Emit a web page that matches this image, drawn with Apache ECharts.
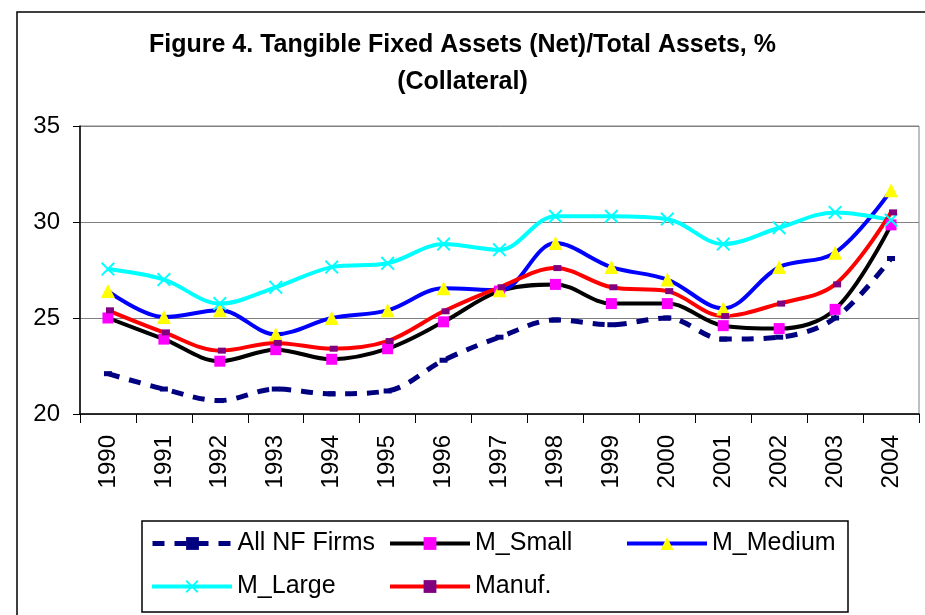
<!DOCTYPE html>
<html>
<head>
<meta charset="utf-8">
<title>Figure 4</title>
<script src="https://cdn.jsdelivr.net/npm/echarts@6/dist/echarts.min.js"></script>
<style>
  html, body { margin: 0; padding: 0; background: #fff; }
  #chart { width: 925px; height: 615px; }
</style>
</head>
<body>
<div id="chart"></div>
<script>
  // years on the x axis
  const years = ['1990', '1991', '1992', '1993', '1994', '1995', '1996', '1997',
    '1998', '1999', '2000', '2001', '2002', '2003', '2004']
  const yTicks = [20, 25, 30, 35]

  // values, %
  const allNF = [22.1, 21.3, 20.7, 21.3, 21.05, 21.2, 22.8, 24.0, 24.9, 24.65, 25.0, 23.9, 24.0, 25.0, 28.1]
  const mSmall = [25.0, 23.9, 22.75, 23.35, 22.85, 23.4, 24.8, 26.4, 26.75, 25.75, 25.75, 24.6, 24.45, 25.45, 29.85]
  const mMedium = [26.4, 25.05, 25.4, 24.15, 25.0, 25.4, 26.55, 26.45, 28.9, 27.65, 27.0, 25.5, 27.65, 28.4, 31.65]
  const mLarge = [27.55, 27.0, 25.75, 26.6, 27.65, 27.85, 28.85, 28.55, 30.3, 30.3, 30.15, 28.85, 29.7, 30.5, 30.1]
  const manuf = [25.4, 24.25, 23.3, 23.7, 23.4, 23.8, 25.35, 26.6, 27.6, 26.6, 26.4, 25.1, 25.75, 26.75, 30.5]

  const FONT = "'Liberation Sans', Arial, sans-serif"
  // filled X shape for the M_Large markers
  const xMark = 'path://M0,1L1,0L5,4L9,0L10,1L6,5L10,9L9,10L5,6L1,10L0,9L4,5Z'

  function legendItem(name, left, top, lineW) {
    return {
      data: [name],
      left: left,
      top: top,
      padding: 0,
      itemWidth: 80,
      itemHeight: 16,
      itemGap: 5,
      selectedMode: false,
      lineStyle: { width: lineW },
      textStyle: { fontFamily: FONT, fontSize: 25, color: '#000', padding: [0, 0, 0, 0] }
    }
  }

  const chart = echarts.init(document.getElementById('chart'))
  chart.setOption({
    animation: false,
    backgroundColor: '#fff',
    title: {
      text: 'Figure 4. Tangible Fixed Assets (Net)/Total Assets, %\n(Collateral)',
      left: 'center',
      top: 27,
      padding: 0,
      textStyle: {
        fontFamily: FONT,
        fontSize: 25,
        fontWeight: 'bold',
        lineHeight: 37,
        color: '#000'
      }
    },
    graphic: [
      {
        type: 'rect',
        z: -1,
        shape: { x: 17, y: 12, width: 1000, height: 1000 },
        style: { fill: 'none', stroke: '#000', lineWidth: 1.5 }
      },
      {
        type: 'rect',
        z: -1,
        shape: { x: 142, y: 521, width: 706, height: 91 },
        style: { fill: 'none', stroke: '#000', lineWidth: 1.5 }
      }
    ],
    legend: [
      legendItem('All NF Firms', 150, 531, 5),
      legendItem('M_Small', 388, 531, 4),
      legendItem('M_Medium', 625, 531, 4),
      legendItem('M_Large', 150, 574, 4),
      legendItem('Manuf.', 388, 574, 4)
    ],
    grid: {
      left: 80,
      right: 6,
      top: 126,
      bottom: 201,
      show: true,
      borderColor: '#808080',
      borderWidth: 1
    },
    xAxis: {
      type: 'category',
      data: years,
      boundaryGap: true,
      axisLine: { lineStyle: { color: '#000', width: 1.5 } },
      axisTick: { show: true, length: 9, alignWithLabel: false, lineStyle: { color: '#000' } },
      axisLabel: {
        interval: 0,
        rotate: 90,
        margin: 21,
        fontFamily: FONT,
        fontSize: 24,
        color: '#000'
      },
      splitLine: { show: false }
    },
    yAxis: {
      type: 'value',
      min: yTicks[0],
      max: yTicks[yTicks.length - 1],
      interval: 5,
      axisLine: { show: true, lineStyle: { color: '#000', width: 1.5 } },
      axisTick: { show: true, length: 7, lineStyle: { color: '#000' } },
      axisLabel: {
        margin: 20,
        fontFamily: FONT,
        fontSize: 24,
        color: '#000'
      },
      splitLine: { show: true, lineStyle: { color: '#808080', width: 1 } }
    },
    series: [
      {
        name: 'All NF Firms',
        type: 'line',
        data: allNF,
        smooth: 0.35,
        symbol: 'rect',
        symbolSize: [8, 5],
        itemStyle: { color: '#000080' },
        lineStyle: { color: '#000080', width: 5, type: [12, 10] }
      },
      {
        name: 'M_Small',
        type: 'line',
        data: mSmall,
        smooth: 0.35,
        symbol: 'rect',
        symbolSize: 11,
        itemStyle: { color: '#FF00FF' },
        lineStyle: { color: '#000', width: 4 }
      },
      {
        name: 'M_Medium',
        type: 'line',
        data: mMedium,
        smooth: 0.35,
        symbol: 'triangle',
        symbolSize: [14, 14],
        itemStyle: { color: '#FFFF00' },
        lineStyle: { color: '#0000FF', width: 4 }
      },
      {
        name: 'M_Large',
        type: 'line',
        data: mLarge,
        smooth: 0.35,
        symbol: xMark,
        symbolSize: 14,
        itemStyle: { color: '#00FFFF' },
        lineStyle: { color: '#00FFFF', width: 4 }
      },
      {
        name: 'Manuf.',
        type: 'line',
        data: manuf,
        smooth: 0.35,
        symbol: 'rect',
        symbolSize: [8, 6],
        symbolOffset: [2, 0],
        itemStyle: { color: '#800080' },
        lineStyle: { color: '#FF0000', width: 4 }
      }
    ]
  })
</script>
</body>
</html>
